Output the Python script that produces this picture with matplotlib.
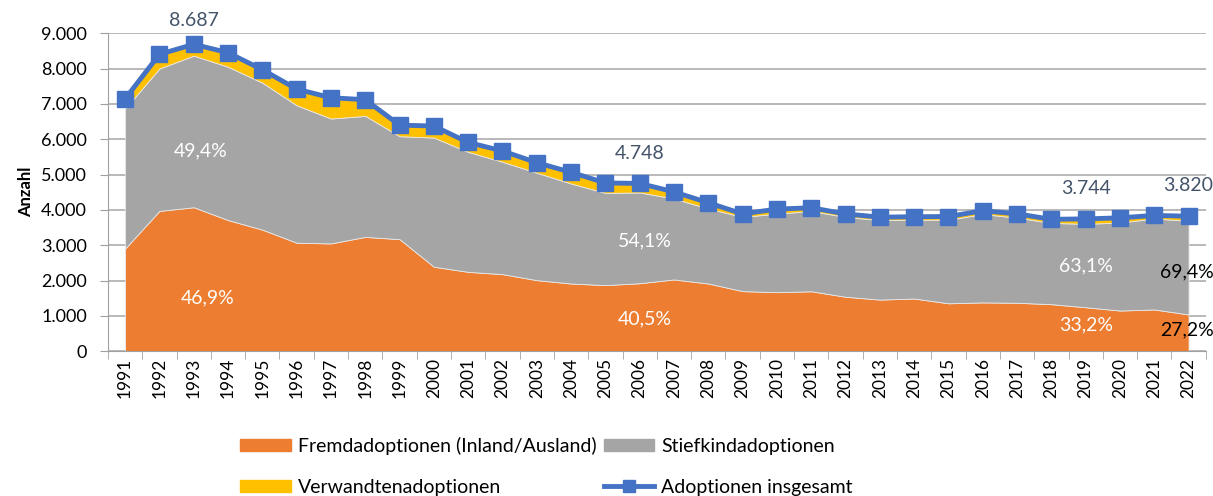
import numpy as np
import matplotlib
matplotlib.use('Agg')
import matplotlib.pyplot as plt
from matplotlib.patches import Patch
from matplotlib.lines import Line2D

plt.rcParams['font.family'] = ['Lato', 'DejaVu Sans']

years = list(range(1991, 2023))
# Adoptionen insgesamt
total = [7142, 8403, 8687, 8449, 7969, 7420, 7173, 7119, 6399, 6373, 5909, 5668, 5336, 5064, 4762, 4748,
         4509, 4201, 3888, 4021, 4060, 3886, 3793, 3805, 3812, 3976, 3888, 3733, 3744, 3774, 3843, 3820]
fremd = [2905, 3970, 4074, 3710, 3440, 3070, 3050, 3235, 3170, 2390, 2245, 2180, 2010, 1915, 1870, 1923,
         2030, 1915, 1700, 1670, 1695, 1540, 1460, 1490, 1355, 1380, 1370, 1330, 1243, 1150, 1180, 1039]
stief = [3960, 4030, 4291, 4340, 4160, 3890, 3535, 3425, 2915, 3655, 3395, 3180, 3040, 2830, 2610, 2569,
         2290, 2120, 2100, 2225, 2270, 2260, 2250, 2230, 2365, 2500, 2410, 2300, 2362, 2490, 2575, 2651]
verw = [277, 403, 322, 399, 369, 460, 588, 459, 314, 328, 269, 308, 286, 319, 282, 256,
        189, 166, 88, 126, 95, 86, 83, 85, 92, 96, 108, 103, 139, 134, 88, 130]

# Anteile: (Jahr, Stiefkind, Fremd)
shares = [(1993, '49,4%', '46,9%'), (2006, '54,1%', '40,5%'), (2019, '63,1%', '33,2%'), (2022, '69,4%', '27,2%')]
total_labels = [1993, 2006, 2019, 2022]

c_fremd = '#ED7D31'
c_stief = '#A5A5A5'
c_verw = '#FFC000'
c_line = '#4472C4'

fig = plt.figure(figsize=(12.13, 4.96), dpi=100)
ax = fig.add_axes([0.089, 0.292, 0.905, 0.641])

x = np.array(years)
ax.stackplot(x, fremd, stief, verw, colors=[c_fremd, c_stief, c_verw],
             edgecolor='#e8e8e8', linewidth=0.6, zorder=2)
ax.plot(x, total, color=c_line, lw=3.5, marker='s', ms=11.5, zorder=4)

ax.set_xlim(1990.5, 2022.5)
ax.set_ylim(0, 9000)
ax.set_yticks(range(0, 9001, 1000))
ax.set_yticklabels(['0' if v == 0 else f'{v // 1000}.000' for v in range(0, 9001, 1000)], fontsize=13)
ax.set_xticks(x)
ax.set_xticklabels([str(y) for y in years], rotation=90, fontsize=12.5)
ax.set_xticks(np.arange(1990.5, 2023, 1), minor=True)
ax.tick_params(axis='x', which='major', length=0, pad=5)
ax.tick_params(axis='x', which='minor', length=6, color='#a0a0a0')
ax.tick_params(axis='y', length=6, color='#a0a0a0', pad=9)
ax.grid(axis='y', color='#a6a6a6', lw=1.1, zorder=0)
ax.set_axisbelow(True)
for s in ['top', 'right']:
    ax.spines[s].set_visible(False)
ax.spines['left'].set_color('#a0a0a0')
ax.spines['bottom'].set_color('#a0a0a0')
ax.set_ylabel('Anzahl', fontsize=12, fontweight='bold', labelpad=5)

# Gesamtwerte ueber der Linie
for yr in total_labels:
    i = years.index(yr)
    v = total[i]
    lab = f'{v // 1000}.{v % 1000:03d}'
    dy = 680 if yr == 1993 else 860
    ax.text(yr, v + dy, lab, ha='center', va='center', fontsize=14, color='#44546A', zorder=5)

# Anteile in den Flaechen
for yr, s_lab, f_lab in shares:
    i = years.index(yr)
    if yr == 2022:
        ax.text(2022.72, fremd[i] + stief[i] * 0.46, s_lab, ha='right', va='center',
                fontsize=14, color='black', zorder=5)
        ax.text(2022.74, 600, f_lab, ha='right', va='center', fontsize=14, color='black', zorder=5)
        continue
    xo = {1993: 0.2, 2006: 0.15, 2019: 0.0}[yr]
    fs = {1993: 0.37, 2006: 0.47, 2019: 0.49}[yr]
    ff = {1993: 0.37, 2006: 0.48, 2019: 0.59}[yr]
    ax.text(yr + xo, fremd[i] + stief[i] * fs, s_lab, ha='center', va='center', fontsize=14, color='white', zorder=5)
    ax.text(yr + xo + (0.2 if yr == 1993 else 0), fremd[i] * ff, f_lab,
            ha='center', va='center', fontsize=14, color='white', zorder=5)

handles = [Patch(color=c_fremd), Patch(color=c_verw), Patch(color=c_stief),
           Line2D([], [], color=c_line, lw=3.5, marker='s', ms=9)]
labels = ['Fremdadoptionen (Inland/Ausland)', 'Verwandtenadoptionen', 'Stiefkindadoptionen', 'Adoptionen insgesamt']
fig.legend(handles, labels, ncol=2, loc='upper left', bbox_to_anchor=(0.198, 0.12),
           frameon=False, handlelength=2.6, handleheight=0.6, handletextpad=0.35,
           columnspacing=0.4, labelspacing=1.25, borderaxespad=0, borderpad=0,
           prop={'size': 14})

fig.savefig('out.png', dpi=100)
